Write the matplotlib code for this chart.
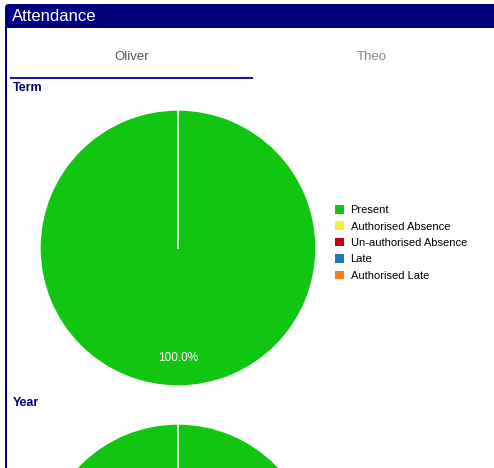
import matplotlib.pyplot as plt
from matplotlib.patches import FancyBboxPatch, Rectangle
from matplotlib.lines import Line2D

plt.rcParams['font.family'] = ['Liberation Sans', 'DejaVu Sans']

# Attendance data
categories = ['Present', 'Authorised Absence', 'Un-authorised Absence', 'Late', 'Authorised Late']
term_values = [100, 0, 0, 0, 0]
year_values = [100, 0, 0, 0, 0]
colors = ['#11c611', '#f2ee3a', '#cc0000', '#1f77b4', '#ff7f0e']
tabs = ['Oliver', 'Theo']

W, H = 494, 468
NAVY = '#000080'

fig = plt.figure(figsize=(W / 100, H / 100), dpi=100)
fig.patch.set_facecolor('white')


def fx(px):
    return px / W


def fy(py):
    return 1 - py / H


# Header bar and left border
fig.patches.append(FancyBboxPatch((fx(5), fy(28)), fx(500) - fx(5), fy(4) - fy(28),
                                  boxstyle='round,pad=0,rounding_size=0.008',
                                  transform=fig.transFigure, facecolor=NAVY, edgecolor='none'))
fig.patches.append(Rectangle((fx(5), 0), fx(2), fy(26), transform=fig.transFigure,
                             facecolor=NAVY, edgecolor='none'))
fig.text(fx(12), fy(16.5), 'Attendance', color='white', fontsize=12, va='center', ha='left')

# Tabs
fig.text(fx(132), fy(57), tabs[0], color='#555555', fontsize=9.5, ha='center', va='center')
fig.text(fx(372), fy(57), tabs[1], color='#888888', fontsize=9.5, ha='center', va='center')
fig.lines.append(Line2D([fx(11), fx(252)], [fy(77.5), fy(77.5)], transform=fig.transFigure,
                        color='#1a1a99', linewidth=1.5))


def pct(p):
    return f'{p:.1f}%' if p > 0 else ''


def draw_pie(values, cx, cy, r, label, label_y, legend=True):
    fig.text(fx(13), fy(label_y), label, color=NAVY, fontsize=9, fontweight='bold',
             ha='left', va='center')
    ax = fig.add_axes([fx(cx - r), fy(cy + r), (2 * r) / W, (2 * r) / H])
    # percentage label only where it falls inside the visible page
    wedges = ax.pie(values, colors=colors, startangle=90, counterclock=False,
                    autopct=pct if legend else None, pctdistance=0.8, radius=1,
                    textprops=dict(color='white', fontsize=8.5))[0]
    # slice border from centre to start angle
    ax.plot([0, 0], [0, 1], color='white', linewidth=1.2)
    ax.set_xlim(-1.005, 1.005)
    ax.set_ylim(-1.005, 1.005)
    ax.axis('off')
    if legend:
        fig.legend(wedges, categories, loc='upper left',
                   bbox_to_anchor=(fx(335), fy(205)), frameon=False, fontsize=8,
                   handlelength=0.8, handleheight=0.8, handletextpad=0.6,
                   labelspacing=0.57, borderaxespad=0, borderpad=0)
    return ax


draw_pie(term_values, 178, 248, 138, 'Term', 88)
draw_pie(year_values, 178, 562, 138, 'Year', 403, legend=False)

fig.savefig('out.png', dpi=100, facecolor='white')
